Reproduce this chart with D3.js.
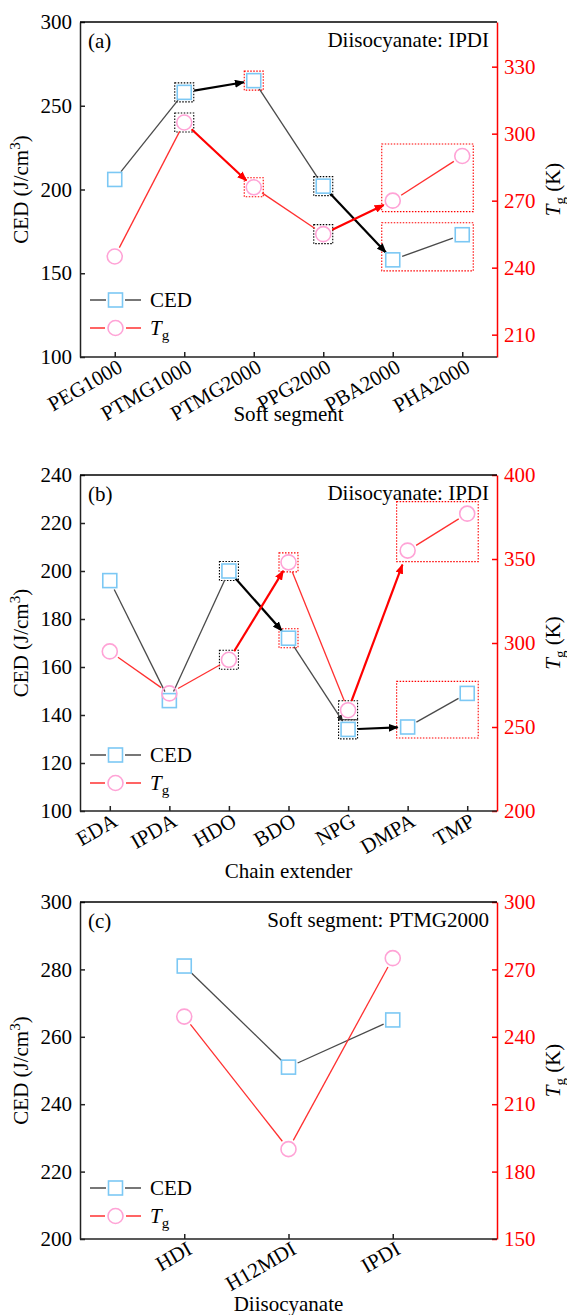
<!DOCTYPE html>
<html>
<head>
<meta charset="utf-8">
<script src="https://cdn.jsdelivr.net/npm/d3@7"></script>
<style>
body { margin: 0; background: #fff; }
svg text { font-family: "Liberation Serif", "Times New Roman", serif; }
</style>
</head>
<body>
<div id="chart"></div>
<script>
// DATA
const softSegments = ["PEG1000", "PTMG1000", "PTMG2000", "PPG2000", "PBA2000", "PHA2000"];
const cedSoft = [206, 258, 265, 202, 158, 173];
const tgSoft = [245, 305, 276, 255, 270, 290];
const cedSoftTicks = [100, 150, 200, 250, 300];
const tgSoftTicks = [210, 240, 270, 300, 330];

const chainExtenders = ["EDA", "IPDA", "HDO", "BDO", "NPG", "DMPA", "TMP"];
const cedChain = [196, 146, 200, 172, 134, 135, 149];
const tgChain = [295, 270, 290, 348, 260, 355, 377];
const cedChainTicks = [100, 120, 140, 160, 180, 200, 220, 240];
const tgChainTicks = [200, 250, 300, 350, 400];

const diisocyanates = ["HDI", "H12MDI", "IPDI"];
const cedDiiso = [281, 251, 265];
const tgDiiso = [249, 190, 275];
const cedDiisoTicks = [200, 220, 240, 260, 280, 300];
const tgDiisoTicks = [150, 180, 210, 240, 270, 300];

// annotations: arrows [from, to], dotted boxes by point index
const softArrows = [[1, 2], [3, 4]];
const chainArrows = [[2, 3], [4, 5]];

// LAYOUT
const W = 567, H = 1315;
const left = 80, right = 497;
const fontSize = 21;

const panels = [
    {label: "(a)", note: "Diisocyanate: IPDI", title: "Soft segment",
     cats: softSegments, ced: cedSoft, tg: tgSoft,
     cedDomain: [100, 300], tgDomain: [200, 350], cedTicks: cedSoftTicks, tgTicks: tgSoftTicks,
     top: 22, bottom: 357, padding: 0.5, titleOffset: 64, legendOffset: 57,
     arrows: softArrows, blackBoxes: [1, 3], redBoxes: [2], bigBox: [4, 5], thinArrow: null},
    {label: "(b)", note: "Diisocyanate: IPDI", title: "Chain extender",
     cats: chainExtenders, ced: cedChain, tg: tgChain,
     cedDomain: [100, 240], tgDomain: [200, 400], cedTicks: cedChainTicks, tgTicks: tgChainTicks,
     top: 475, bottom: 811, padding: 0.5, titleOffset: 67, legendOffset: 56,
     arrows: chainArrows, blackBoxes: [2, 4], redBoxes: [3], bigBox: [5, 6], thinArrow: [3, 4]},
    {label: "(c)", note: "Soft segment: PTMG2000", title: "Diisocyanate",
     cats: diisocyanates, ced: cedDiiso, tg: tgDiiso,
     cedDomain: [200, 300], tgDomain: [150, 300], cedTicks: cedDiisoTicks, tgTicks: tgDiisoTicks,
     top: 902, bottom: 1239, padding: 1, titleOffset: 72, legendOffset: 51,
     arrows: [], blackBoxes: [], redBoxes: [], bigBox: null, thinArrow: null}
];

const colors = {
    cedLine: "#4a4a4a", tgLine: "#ff3030",
    square: "#7cc8f4", circle: "#ffa3d6",
    red: "#ff0000", black: "#000"
};

const svg = d3.select("#chart").append("svg")
    .attr("width", W)
    .attr("height", H);

const defs = svg.append("defs");
function arrowMarker(id, color, size) {
    defs.append("marker")
        .attr("id", id)
        .attr("viewBox", "0 0 10 8")
        .attr("refX", 9)
        .attr("refY", 4)
        .attr("markerUnits", "userSpaceOnUse")
        .attr("markerWidth", size)
        .attr("markerHeight", size * 0.8)
        .attr("orient", "auto")
        .append("path")
        .attr("d", "M0,0 L10,4 L0,8 z")
        .attr("fill", color);
}
arrowMarker("arrow-black", colors.black, 10);
arrowMarker("arrow-red", colors.red, 10);
arrowMarker("arrow-gray", "#222", 7);

function shorten(p1, p2, a, b) {
    const dx = p2[0] - p1[0], dy = p2[1] - p1[1];
    const len = Math.hypot(dx, dy);
    const ux = dx / len, uy = dy / len;
    return [p1[0] + ux * a, p1[1] + uy * a, p2[0] - ux * b, p2[1] - uy * b];
}

function square(g, x, y, s) {
    g.append("rect")
        .attr("x", x - s / 2).attr("y", y - s / 2)
        .attr("width", s).attr("height", s)
        .attr("fill", "none")
        .attr("stroke", colors.square)
        .attr("stroke-width", 1.6);
}

function circle(g, x, y, r) {
    g.append("circle")
        .attr("cx", x).attr("cy", y).attr("r", r)
        .attr("fill", "none")
        .attr("stroke", colors.circle)
        .attr("stroke-width", 1.6);
}

function styleAxis(ax, lineColor, textColor) {
    ax.attr("font-family", null).attr("font-size", null);
    ax.selectAll("path, line").attr("stroke", lineColor).attr("stroke-width", 1.5);
    ax.selectAll("text").attr("font-size", fontSize).attr("fill", textColor);
}

function drawPanel(p) {
    const g = svg.append("g");

    const x = d3.scalePoint().domain(p.cats).range([left, right]).padding(p.padding);
    const yL = d3.scaleLinear().domain(p.cedDomain).range([p.bottom, p.top]);
    const yR = d3.scaleLinear().domain(p.tgDomain).range([p.bottom, p.top]);

    const cedPts = p.cats.map((c, i) => [x(c), yL(p.ced[i])]);
    const tgPts = p.cats.map((c, i) => [x(c), yR(p.tg[i])]);

    // axes
    const axL = g.append("g")
        .attr("transform", `translate(${left},0)`)
        .call(d3.axisLeft(yL).tickValues(p.cedTicks).tickSizeInner(-5).tickSizeOuter(0).tickPadding(8));
    styleAxis(axL, "#222", "#000");

    const axR = g.append("g")
        .attr("transform", `translate(${right},0)`)
        .call(d3.axisRight(yR).tickValues(p.tgTicks).tickSizeInner(-5).tickSizeOuter(0).tickPadding(7));
    styleAxis(axR, colors.red, colors.red);

    const axB = g.append("g")
        .attr("transform", `translate(0,${p.bottom})`)
        .call(d3.axisBottom(x).tickSizeInner(-5).tickSizeOuter(0));
    styleAxis(axB, "#222", "#000");
    axB.selectAll("text").remove();
    axB.select(".domain").attr("d", `M${left},0H${right}`);

    g.append("line")
        .attr("x1", left).attr("x2", right)
        .attr("y1", p.top).attr("y2", p.top)
        .attr("stroke", "#000").attr("stroke-width", 1.5);

    // rotated category labels
    g.selectAll(".cat")
        .data(p.cats)
        .join("text")
        .attr("class", "cat")
        .attr("font-size", fontSize)
        .attr("text-anchor", "end")
        .attr("transform", d => `translate(${x(d) + 9},${p.bottom + 14}) rotate(-30)`)
        .text(d => d);

    // axis titles
    g.append("text")
        .attr("x", (left + right) / 2)
        .attr("y", p.bottom + p.titleOffset)
        .attr("text-anchor", "middle")
        .attr("font-size", fontSize)
        .text(p.title);

    const tl = g.append("text")
        .attr("transform", `translate(28,${(p.top + p.bottom) / 2}) rotate(-90)`)
        .attr("text-anchor", "middle")
        .attr("font-size", fontSize);
    tl.append("tspan").text("CED (J/cm");
    tl.append("tspan").attr("font-size", 15).attr("dy", -8).text("3");
    tl.append("tspan").attr("dy", 8).text(")");

    const tr = g.append("text")
        .attr("transform", `translate(560,${(p.top + p.bottom) / 2}) rotate(-90)`)
        .attr("text-anchor", "middle")
        .attr("font-size", fontSize);
    tr.append("tspan").attr("font-style", "italic").text("T");
    tr.append("tspan").attr("font-size", 15).attr("dy", 5).text("g");
    tr.append("tspan").attr("dy", -5).text(" (K)");

    // panel label and note
    g.append("text")
        .attr("x", 88).attr("y", p.top + 26)
        .attr("font-size", fontSize)
        .text(p.label);
    g.append("text")
        .attr("x", 489).attr("y", p.top + 25)
        .attr("text-anchor", "end")
        .attr("font-size", fontSize)
        .text(p.note);

    // big dotted boxes
    if (p.bigBox) {
        [cedPts, tgPts].forEach(pts => {
            const sel = p.bigBox.map(i => pts[i]);
            const x0 = d3.min(sel, d => d[0]) - 11, x1 = d3.max(sel, d => d[0]) + 11;
            const y0 = d3.min(sel, d => d[1]) - 12, y1 = d3.max(sel, d => d[1]) + 11;
            g.append("rect")
                .attr("x", x0).attr("y", y0)
                .attr("width", x1 - x0).attr("height", y1 - y0)
                .attr("fill", "none")
                .attr("stroke", colors.red)
                .attr("stroke-width", 1.1)
                .attr("stroke-dasharray", "1.5,1.5");
        });
    }

    // small dotted boxes
    const smallBoxes = p.blackBoxes.map(i => [i, colors.black]).concat(p.redBoxes.map(i => [i, colors.red]));
    smallBoxes.forEach(([i, col]) => {
        [cedPts[i], tgPts[i]].forEach(pt => {
            g.append("rect")
                .attr("x", pt[0] - 9.5).attr("y", pt[1] - 9.5)
                .attr("width", 19).attr("height", 19)
                .attr("fill", "none")
                .attr("stroke", col)
                .attr("stroke-width", 1.1)
                .attr("stroke-dasharray", "1.5,1.5");
        });
    });

    // series lines
    const isArrow = (i) => p.arrows.some(a => a[0] === i);
    const isThin = (i) => p.thinArrow && p.thinArrow[0] === i;
    [[cedPts, colors.cedLine, "arrow-black", colors.black], [tgPts, colors.tgLine, "arrow-red", colors.red]].forEach(([pts, lc, mk, ac], si) => {
        for (let i = 0; i < pts.length - 1; i++) {
            if (isArrow(i)) {
                const s = shorten(pts[i], pts[i + 1], 10, si === 1 && i === 4 && p.thinArrow ? 15 : 10);
                g.append("line")
                    .attr("x1", s[0]).attr("y1", s[1]).attr("x2", s[2]).attr("y2", s[3])
                    .attr("stroke", ac).attr("stroke-width", 2.2)
                    .attr("marker-end", `url(#${mk})`);
            } else {
                const s = shorten(pts[i], pts[i + 1], 10, 10);
                const ln = g.append("line")
                    .attr("x1", s[0]).attr("y1", s[1]).attr("x2", s[2]).attr("y2", s[3])
                    .attr("stroke", lc).attr("stroke-width", 1.3);
                if (si === 0 && isThin(i)) ln.attr("marker-end", "url(#arrow-gray)");
            }
        }
    });

    // markers
    cedPts.forEach(pt => square(g, pt[0], pt[1], 14));
    tgPts.forEach(pt => circle(g, pt[0], pt[1], 7.5));

    // legend
    const ly1 = p.bottom - p.legendOffset, ly2 = ly1 + 28;
    g.append("line").attr("x1", 90).attr("x2", 141).attr("y1", ly1).attr("y2", ly1)
        .attr("stroke", colors.cedLine).attr("stroke-width", 1.3);
    g.append("rect").attr("x", 106).attr("y", ly1 - 9).attr("width", 19).attr("height", 18).attr("fill", "#fff");
    square(g, 115.5, ly1, 14);
    g.append("text").attr("x", 150).attr("y", ly1 + 7).attr("font-size", fontSize).text("CED");

    g.append("line").attr("x1", 90).attr("x2", 141).attr("y1", ly2).attr("y2", ly2)
        .attr("stroke", colors.tgLine).attr("stroke-width", 1.3);
    g.append("rect").attr("x", 105).attr("y", ly2 - 10).attr("width", 21).attr("height", 20).attr("fill", "#fff");
    circle(g, 115.5, ly2, 7.5);
    const lt = g.append("text").attr("x", 150).attr("y", ly2 + 7).attr("font-size", fontSize);
    lt.append("tspan").attr("font-style", "italic").text("T");
    lt.append("tspan").attr("font-size", 15).attr("dy", 5).text("g");
}

panels.forEach(drawPanel);
</script>
</body>
</html>
